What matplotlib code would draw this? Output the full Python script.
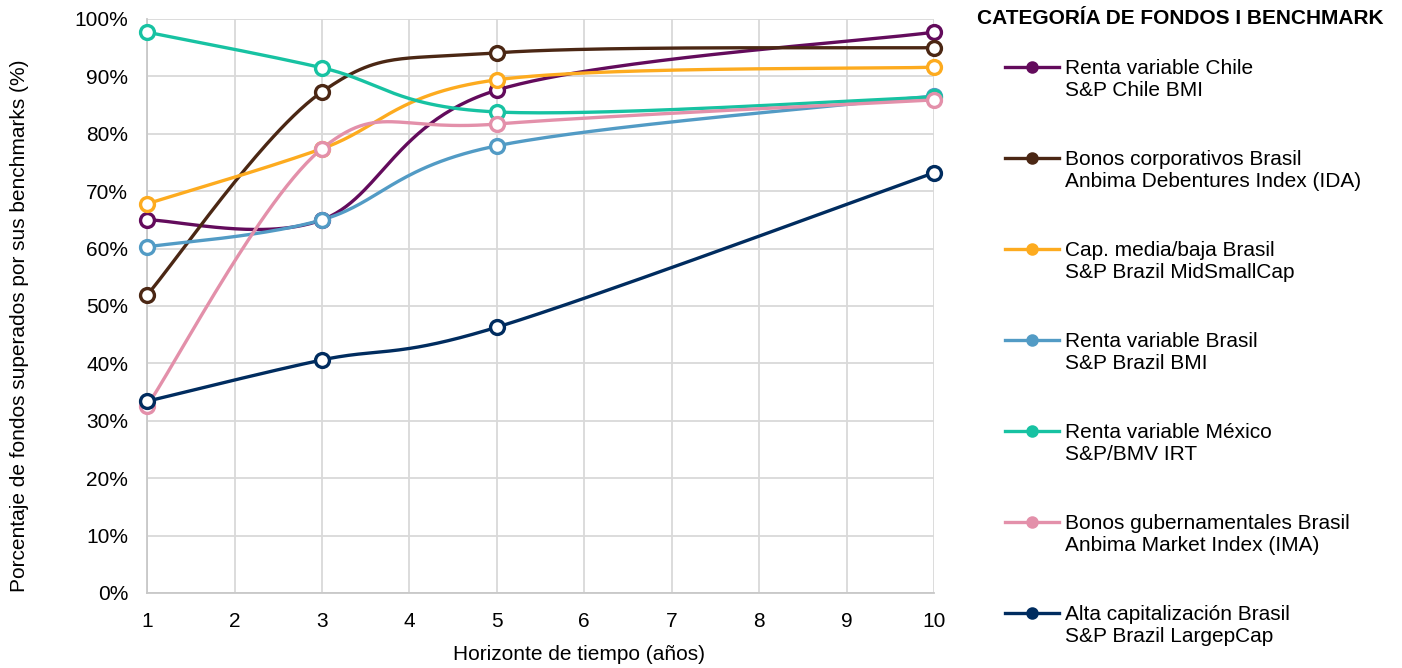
import numpy as np
import matplotlib.pyplot as plt
from matplotlib.lines import Line2D
from matplotlib.legend_handler import HandlerLine2D
from matplotlib.ticker import PercentFormatter

plt.rcParams['font.family'] = ['Liberation Sans', 'DejaVu Sans']

years = [1, 3, 5, 10]

series_labels = [
    "Renta variable Chile\nS&P Chile BMI",
    "Bonos corporativos Brasil\nAnbima Debentures Index (IDA)",
    "Cap. media/baja Brasil\nS&P Brazil MidSmallCap",
    "Renta variable Brasil\nS&P Brazil BMI",
    "Renta variable México\nS&P/BMV IRT",
    "Bonos gubernamentales Brasil\nAnbima Market Index (IMA)",
    "Alta capitalización Brasil\nS&P Brazil LargepCap",
]

chile_rv = [65.0, 65.0, 87.6, 97.7]
brasil_corp = [51.9, 87.3, 94.1, 95.0]
brasil_midsmall = [67.8, 77.4, 89.4, 91.6]
brasil_rv = [60.3, 65.0, 77.9, 86.6]
mexico_rv = [97.7, 91.5, 83.8, 86.4]
brasil_gov = [32.6, 77.4, 81.7, 85.9]
brasil_large = [33.4, 40.6, 46.3, 73.2]

series_values = [chile_rv, brasil_corp, brasil_midsmall, brasil_rv,
                 mexico_rv, brasil_gov, brasil_large]

colors = ["#630b5c", "#4b2714", "#fdab1f", "#529bc5",
          "#17c2a2", "#e390aa", "#002c5f"]

FS = 15


def smooth_curve(xs, ys, sx, sy, n=60):
    """Excel-style smoothed line: cubic Bezier segments with
    Catmull-Rom tangents, computed in screen-proportional units."""
    p = np.column_stack([np.asarray(xs, float) * sx, np.asarray(ys, float) * sy])
    ext = np.vstack([p[0], p, p[-1]])
    t = np.linspace(0, 1, n)[:, None]
    pts = []
    for i in range(len(p) - 1):
        p0, p1 = ext[i + 1], ext[i + 2]
        c1 = p0 + (ext[i + 2] - ext[i]) / 6
        c2 = p1 - (ext[i + 3] - ext[i + 1]) / 6
        seg = ((1 - t) ** 3) * p0 + 3 * ((1 - t) ** 2) * t * c1 \
            + 3 * (1 - t) * t ** 2 * c2 + t ** 3 * p1
        pts.append(seg if i == 0 else seg[1:])
    pts = np.vstack(pts)
    return pts[:, 0] / sx, pts[:, 1] / sy


class FirstLineHandler(HandlerLine2D):
    """Legend handle aligned with the first line of a two-line label."""

    def create_artists(self, legend, orig_handle, xdescent, ydescent,
                       width, height, fontsize, trans):
        arts = super().create_artists(legend, orig_handle, xdescent, ydescent,
                                      width, height, fontsize, trans)
        for a in arts:
            a.set_ydata(np.asarray(a.get_ydata(), float) + 0.58 * fontsize)
        return arts


fig = plt.figure(figsize=(14.02, 6.68), dpi=100)
ax = fig.add_axes([0.1049, 0.1123, 0.5613, 0.8593])

# pixel size of one year / one percentage point on screen
sx = 787 / 9
sy = 574 / 100

handles = []
for vals, col, lab in zip(series_values, colors, series_labels):
    cx, cy = smooth_curve(years, vals, sx, sy)
    ax.plot(cx, cy, color=col, lw=2.4, zorder=3, solid_capstyle='round')
    ax.plot(years, vals, ls='none', marker='o', ms=10, mew=2.4,
            mec=col, mfc='white', zorder=4, clip_on=False)
    handles.append(Line2D([], [], color=col, lw=2.4, marker='o', ms=7,
                          mew=2.0, mec=col, mfc=col))

ax.set_xlim(1, 10)
ax.set_ylim(0, 100)
ax.set_xticks(range(1, 11))
ax.set_yticks(range(0, 101, 10))
ax.yaxis.set_major_formatter(PercentFormatter(decimals=0))
ax.grid(True, color="#d9d9d9", lw=1.3)
ax.set_axisbelow(True)
ax.tick_params(axis='y', length=0, labelsize=FS, pad=13.5)
ax.tick_params(axis='x', length=0, labelsize=FS, pad=14)
for side in ["top", "right"]:
    ax.spines[side].set_visible(False)
for side in ["left", "bottom"]:
    ax.spines[side].set_color("#c8c8c8")
    ax.spines[side].set_linewidth(1.3)

ax.set_xlabel("Horizonte de tiempo (años)", fontsize=FS)
ax.set_ylabel("Porcentaje de fondos superados por sus benchmarks (%)",
              fontsize=FS)
ax.xaxis.set_label_coords(0.549, -0.0906)
ax.yaxis.set_label_coords(-0.150, 0.465)

fig.text(0.9865, 0.9716, "CATEGORÍA DE FONDOS I BENCHMARK", ha='right',
         va='center', fontsize=FS, fontweight='bold')

fig.legend(handles, series_labels, loc='upper left',
           bbox_to_anchor=(0.717, 0.912), frameon=False, fontsize=FS,
           handlelength=2.6, handletextpad=0.25, labelspacing=2.4,
           borderaxespad=0, borderpad=0,
           handler_map={Line2D: FirstLineHandler()})

fig.savefig("out.png", dpi=100)
